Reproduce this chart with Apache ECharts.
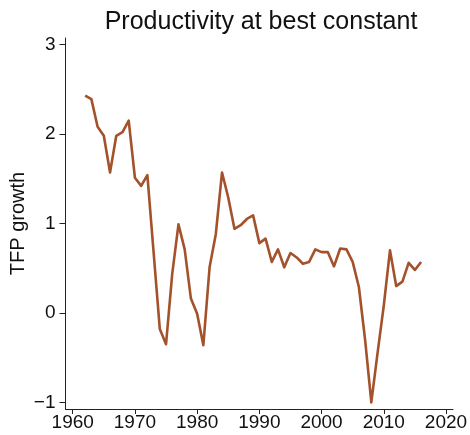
<!DOCTYPE html>
<html>
<head>
<meta charset="utf-8">
<script src="https://cdn.jsdelivr.net/npm/echarts@6/dist/echarts.min.js"></script>
<style>
  html, body { margin: 0; padding: 0; background: #fff; }
  #chart { width: 470px; height: 435px; }
</style>
</head>
<body>
<div id="chart"></div>
<script>
// Annual TFP growth at best constant, 1962-2016
const years = [
  1962, 1963, 1964, 1965, 1966, 1967, 1968, 1969, 1970, 1971,
  1972, 1973, 1974, 1975, 1976, 1977, 1978, 1979, 1980, 1981,
  1982, 1983, 1984, 1985, 1986, 1987, 1988, 1989, 1990, 1991,
  1992, 1993, 1994, 1995, 1996, 1997, 1998, 1999, 2000, 2001,
  2002, 2003, 2004, 2005, 2006, 2007, 2008, 2009, 2010, 2011,
  2012, 2013, 2014, 2015, 2016
];
const tfpGrowth = [
  2.43, 2.39, 2.08, 1.98, 1.57, 1.98, 2.02, 2.15, 1.51, 1.42,
  1.54, 0.68, -0.18, -0.35, 0.44, 0.99, 0.71, 0.16, -0.01, -0.36,
  0.51, 0.88, 1.57, 1.29, 0.94, 0.98, 1.05, 1.09, 0.78, 0.83,
  0.57, 0.71, 0.51, 0.67, 0.62, 0.55, 0.57, 0.71, 0.68, 0.68,
  0.52, 0.72, 0.71, 0.57, 0.29, -0.30, -1.00, -0.45, 0.08, 0.70,
  0.30, 0.35, 0.56, 0.48, 0.57
];
const xTicks = [1960, 1970, 1980, 1990, 2000, 2010, 2020];
const yTicks = [-1, 0, 1, 2, 3];

const font = 'Liberation Sans, Arial, Helvetica, sans-serif';
const axisColor = '#222';

const chart = echarts.init(document.getElementById('chart'), null, { renderer: 'canvas' });
chart.setOption({
  animation: false,
  backgroundColor: '#fff',
  title: {
    text: 'Productivity at best constant',
    left: 256,
    textAlign: 'center',
    top: 5,
    textStyle: { fontFamily: font, fontSize: 25, fontWeight: 'normal', color: '#111' }
  },
  grid: {
    left: 65.5, right: 17, top: 38, bottom: 26,
    containLabel: false, outerBoundsMode: 'none'
  },
  xAxis: {
    type: 'value',
    min: 1958.84,
    max: 2021.13,
    splitLine: { show: false },
    axisLine: { show: true, onZero: false, lineStyle: { color: axisColor, width: 1 } },
    axisTick: { show: true, length: 5, customValues: xTicks, lineStyle: { color: axisColor } },
    axisLabel: {
      customValues: xTicks, margin: 4, color: '#111',
      fontFamily: font, fontSize: 19,
      formatter: v => String(v)
    }
  },
  yAxis: {
    type: 'value',
    min: -1.074,
    max: 3.073,
    name: 'TFP growth',
    nameLocation: 'middle',
    nameGap: 37,
    nameMoveOverlap: false,
    nameTextStyle: { fontFamily: font, fontSize: 20, color: '#111' },
    splitLine: { show: false },
    axisLine: { show: true, onZero: false, lineStyle: { color: axisColor, width: 1 } },
    axisTick: { show: true, length: 6, customValues: yTicks, lineStyle: { color: axisColor } },
    axisLabel: {
      customValues: yTicks, margin: 10, color: '#111',
      fontFamily: font, fontSize: 19,
      formatter: v => (v < 0 ? '\u2212' + Math.abs(v) : String(v))
    }
  },
  series: [{
    type: 'line',
    data: years.map((y, i) => [y, tfpGrowth[i]]),
    showSymbol: false,
    symbol: 'none',
    lineStyle: { color: '#a3522b', width: 2.6, join: 'round' },
    itemStyle: { color: '#a3522b' }
  }]
});
</script>
</body>
</html>
